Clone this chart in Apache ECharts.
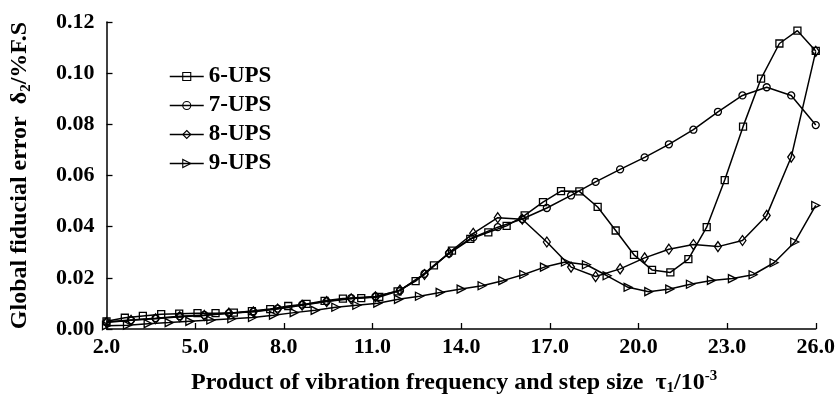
<!DOCTYPE html>
<html>
<head>
<meta charset="utf-8">
<script src="https://cdn.jsdelivr.net/npm/echarts@6/dist/echarts.min.js"></script>
<style>
html,body{margin:0;padding:0;background:#fff;}
#chart{width:838px;height:401px;}
</style>
</head>
<body>
<div id="chart"></div>
<script>
// ---- data ----
var seriesNames = ['6-UPS', '7-UPS', '8-UPS', '9-UPS'];

var x6 = [2.00, 2.62, 3.23, 3.85, 4.46, 5.08, 5.69, 6.31, 6.92, 7.54, 8.15, 8.77, 9.38, 10.00, 10.62, 11.23, 11.85, 12.46, 13.08, 13.69,
          14.31, 14.92, 15.54, 16.15, 16.77, 17.38, 18.00, 18.62, 19.23, 19.85, 20.46, 21.08, 21.69, 22.31, 22.92, 23.54, 24.15, 24.77, 25.38, 26.00];
var y6 = [0.0030, 0.0044, 0.0051, 0.0058, 0.0060, 0.0062, 0.0062, 0.0064, 0.0070, 0.0078, 0.0090, 0.0098, 0.0110, 0.0119, 0.0121, 0.0125, 0.0147, 0.0187, 0.0249, 0.0306,
          0.0352, 0.0378, 0.0403, 0.0444, 0.0496, 0.0539, 0.0538, 0.0477, 0.0385, 0.0290, 0.0231, 0.0221, 0.0273, 0.0398, 0.0582, 0.0791, 0.0979, 0.1116, 0.1166, 0.1087];

var x7 = [2.00, 2.83, 3.66, 4.48, 5.31, 6.14, 6.97, 7.79, 8.62, 9.45, 10.28, 11.10, 11.93, 12.76, 13.59,
          14.41, 15.24, 16.07, 16.90, 17.72, 18.55, 19.38, 20.21, 21.03, 21.86, 22.69, 23.52, 24.34, 25.17, 26.00];
var y7 = [0.0028, 0.0035, 0.0042, 0.0050, 0.0055, 0.0062, 0.0068, 0.0080, 0.0095, 0.0108, 0.0121, 0.0127, 0.0150, 0.0216, 0.0295,
          0.0358, 0.0398, 0.0430, 0.0473, 0.0522, 0.0575, 0.0624, 0.0671, 0.0722, 0.0779, 0.0849, 0.0913, 0.0945, 0.0913, 0.0797];

var x8 = [2.00, 2.83, 3.66, 4.48, 5.31, 6.14, 6.97, 7.79, 8.62, 9.45, 10.28, 11.10, 11.93, 12.76, 13.59,
          14.41, 15.24, 16.07, 16.90, 17.72, 18.55, 19.38, 20.21, 21.03, 21.86, 22.69, 23.52, 24.34, 25.17, 26.00];
var y8 = [0.0025, 0.0034, 0.0040, 0.0048, 0.0053, 0.0062, 0.0067, 0.0078, 0.0093, 0.0107, 0.0118, 0.0126, 0.0152, 0.0213, 0.0298,
          0.0374, 0.0435, 0.0429, 0.0340, 0.0242, 0.0205, 0.0235, 0.0278, 0.0312, 0.0330, 0.0322, 0.0346, 0.0444, 0.0672, 0.1085];

var x9 = [2.00, 2.71, 3.41, 4.12, 4.82, 5.53, 6.24, 6.94, 7.65, 8.35, 9.06, 9.76, 10.47, 11.18, 11.88, 12.59, 13.29,
          14.00, 14.71, 15.41, 16.12, 16.82, 17.53, 18.24, 18.94, 19.65, 20.35, 21.06, 21.76, 22.47, 23.18, 23.88, 24.59, 25.29, 26.00];
var y9 = [0.0013, 0.0015, 0.0021, 0.0025, 0.0030, 0.0035, 0.0040, 0.0045, 0.0054, 0.0064, 0.0073, 0.0085, 0.0093, 0.0101, 0.0116, 0.0128, 0.0143,
          0.0156, 0.0169, 0.0189, 0.0213, 0.0242, 0.0262, 0.0251, 0.0208, 0.0163, 0.0146, 0.0156, 0.0175, 0.0190, 0.0197, 0.0212, 0.0259, 0.0340, 0.0483];

var xTickMin = 2, xTickMax = 26, xTickStep = 3;
var yTickMin = 0, yTickMax = 0.12, yTickStep = 0.02;

// ---- chart ----
function pairs(xs, ys) { return xs.map(function (x, i) { return [x, ys[i]]; }); }

var FONT = '"Liberation Serif", "Times New Roman", serif';
var HOLLOW = 'rgba(255,255,255,0)';
var symbols = ['rect', 'circle', 'diamond', 'triangle'];
var symbolSizes = [[7, 7], [7, 7], [7, 10], [8, 8]];
var rotations = [0, 0, 0, -90];
var xs = [x6, x7, x8, x9], ys = [y6, y7, y8, y9];

var series = seriesNames.map(function (name, i) {
  return {
    name: name,
    type: 'line',
    data: pairs(xs[i], ys[i]),
    symbol: symbols[i],
    symbolSize: symbolSizes[i],
    symbolRotate: rotations[i],
    showAllSymbol: true,
    lineStyle: { color: '#000', width: 1.5 },
    itemStyle: { color: HOLLOW, borderColor: '#000', borderWidth: 1.3 },
    emphasis: { disabled: true },
    animation: false,
    z: 2 + i
  };
});

var legendData = seriesNames.map(function (name) {
  return { name: name, itemStyle: { color: HOLLOW, borderColor: '#000', borderWidth: 1.1 } };
});

var chart = echarts.init(document.getElementById('chart'), null, { renderer: 'canvas' });
chart.setOption({
  backgroundColor: '#fff',
  animation: false,
  grid: { left: 98, right: 21.5, top: 22, bottom: 63.3, containLabel: false },
  legend: {
    data: legendData,
    orient: 'vertical',
    left: 164,
    top: 60,
    itemWidth: 34,
    itemHeight: 10,
    itemGap: 6,
    itemStyle: { color: HOLLOW, borderColor: '#000', borderWidth: 1.1 },
    lineStyle: { color: '#000', width: 1.5 },
    textStyle: { fontFamily: FONT, fontWeight: 'bold', fontSize: 23, color: '#000', padding: [0, 0, 0, 0] }
  },
  xAxis: {
    type: 'value',
    min: xTickMin,
    max: xTickMax,
    interval: xTickStep,
    axisLine: { show: true, lineStyle: { color: '#000', width: 1.5 } },
    axisTick: { show: true, inside: true, length: 6, lineStyle: { color: '#000', width: 1.3 } },
    splitLine: { show: false },
    axisLabel: {
      margin: 7,
      fontFamily: FONT, fontWeight: 'bold', fontSize: 22, color: '#000',
      formatter: function (v) { return v.toFixed(1); }
    },
    name: 'Product of vibration frequency and step size  τ{sub|1}/10{sup|-3}',
    nameLocation: 'middle',
    nameGap: 40,
    nameTextStyle: {
      fontFamily: FONT, fontWeight: 'bold', fontSize: 24, color: '#000',
      padding: [0, 14, 0, 0],
      rich: {
        sub: { fontFamily: FONT, fontWeight: 'bold', fontSize: 15, color: '#000', verticalAlign: 'bottom', padding: [12, 0, 0, 0] },
        sup: { fontFamily: FONT, fontWeight: 'bold', fontSize: 15, color: '#000', verticalAlign: 'top', padding: [0, 0, 10, 0] }
      }
    }
  },
  yAxis: {
    type: 'value',
    min: yTickMin,
    max: yTickMax,
    interval: yTickStep,
    axisLine: { show: true, lineStyle: { color: '#000', width: 1.5 } },
    axisTick: { show: true, inside: true, length: 6, lineStyle: { color: '#000', width: 1.3 } },
    splitLine: { show: false },
    axisLabel: {
      margin: 12,
      fontFamily: FONT, fontWeight: 'bold', fontSize: 22, color: '#000',
      formatter: function (v) { return v.toFixed(2); }
    },
    name: 'Global fiducial error  δ{sub|2}/%F.S',
    nameLocation: 'middle',
    nameRotate: 90,
    nameGap: 73,
    nameTextStyle: {
      fontFamily: FONT, fontWeight: 'bold', fontSize: 24, color: '#000',
      rich: {
        sub: { fontFamily: FONT, fontWeight: 'bold', fontSize: 15, color: '#000', verticalAlign: 'bottom', padding: [12, 0, 0, 0] }
      }
    }
  },
  series: series
});
</script>
</body>
</html>
